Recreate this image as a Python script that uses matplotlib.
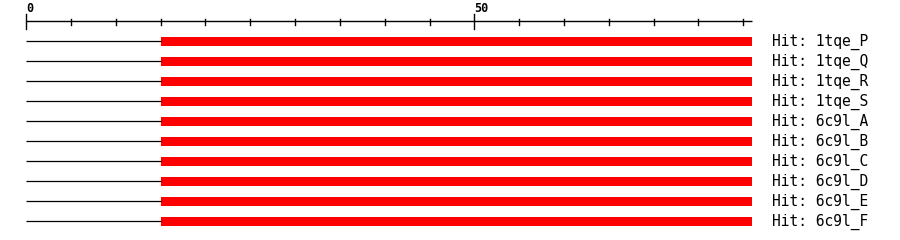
import matplotlib
matplotlib.use("Agg")
import matplotlib.pyplot as plt

# query length and hit span (residues)
query_len = 81
hit_start = 15
hit_end = 81
hits = ["1tqe_P", "1tqe_Q", "1tqe_R", "1tqe_S",
        "6c9l_A", "6c9l_B", "6c9l_C", "6c9l_D", "6c9l_E", "6c9l_F"]
major_ticks = [0, 50]
minor_step = 5

fig = plt.figure(figsize=(9, 2.4), dpi=100)
ax = fig.add_axes([0, 0, 1, 1])
ax.set_xlim(-2.93, 97.5)
ax.set_ylim(9.95, -2.05)
ax.axis("off")

mono = "DejaVu Sans Mono"

# ruler
ax.plot([0, query_len], [-1, -1], color="black", lw=1.0, solid_capstyle="butt")
for t in range(0, query_len + 1, minor_step):
    if t in major_ticks:
        ax.plot([t, t], [-1.35, -0.6], color="black", lw=1.0)
        ax.text(t, -1.65, str(t), fontsize=8.5, fontweight="bold",
                family=mono, ha="left", va="center")
    else:
        ax.plot([t, t], [-1.1, -0.8], color="black", lw=1.0)

# hits
for i, name in enumerate(hits):
    ax.plot([0, hit_start], [i, i], color="black", lw=0.9, solid_capstyle="butt")
    ax.barh(i, hit_end - hit_start, left=hit_start, height=0.45,
            color="#ff0000", edgecolor="none")
    ax.text(83.2, i + 0.02, "Hit: " + name, fontsize=10.5, family=mono,
            fontweight="medium", ha="left", va="center")

plt.savefig("out.png", dpi=100)
